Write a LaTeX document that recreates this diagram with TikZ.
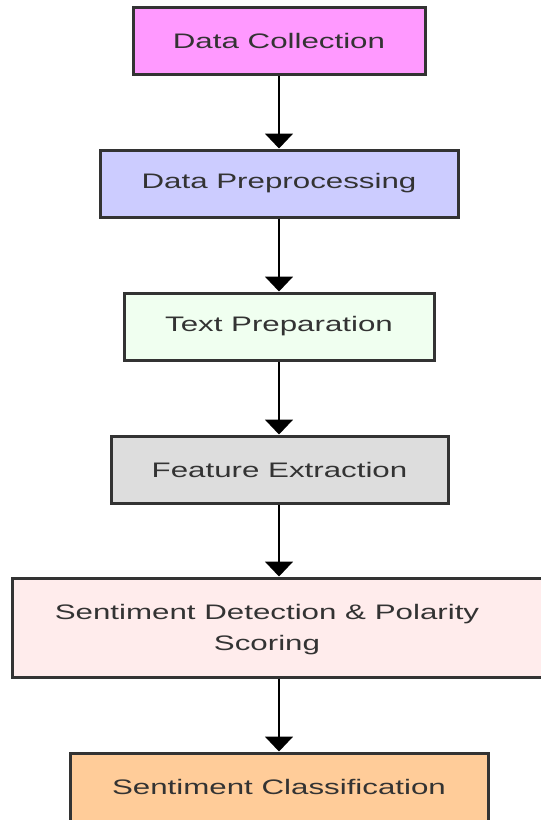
\documentclass[tikz,border=0pt]{standalone}
\usepackage{fontspec}
\setmainfont{Liberation Sans}
\usetikzlibrary{arrows.meta,shadows}
\definecolor{edge}{HTML}{333333}
\definecolor{txt}{HTML}{333333}
\definecolor{cA}{HTML}{FF99FF}
\definecolor{cB}{HTML}{CCCCFF}
\definecolor{cC}{HTML}{F0FFF0}
\definecolor{cD}{HTML}{DDDDDD}
\definecolor{cE}{HTML}{FFECEC}
\definecolor{cF}{HTML}{FFCC99}
\newcommand{\wtxt}[1]{\raisebox{-2pt}{\scalebox{1.49}[1]{#1}}}
\tikzset{
  stepbox/.style={draw=edge, line width=3pt, inner sep=0pt, minimum height=67pt,
    text=txt, font=\fontsize{21pt}{31pt}\selectfont, align=center,
    drop shadow={opacity=0.18, shadow xshift=1pt, shadow yshift=-1.5pt}},
  flow/.style={line width=2pt, black, -{Triangle[width=28pt,length=15pt]}}
}
\begin{document}
\begin{tikzpicture}[x=1pt,y=1pt]
\useasboundingbox (0,0) rectangle (541,-820);
\fill[white] (0,0) rectangle (541,-820);
\node[stepbox, fill=cA, minimum width=292pt] (n1) at (279,-40.5) {\wtxt{Data Collection}};
\node[stepbox, fill=cB, minimum width=358pt] (n2) at (279,-183.5) {\wtxt{Data Preprocessing}};
\node[stepbox, fill=cC, minimum width=310pt] (n3) at (279,-326.5) {\wtxt{Text Preparation}};
\node[stepbox, fill=cD, minimum width=337pt] (n4) at (279.5,-469.5) {\wtxt{Feature Extraction}};
\node[stepbox, fill=cE, minimum width=534pt, minimum height=99pt] (n5) at (279,-627.5) {};
\node[text=txt, font=\fontsize{21pt}{31pt}\selectfont, align=center] (n5t) at (267,-630) {\wtxt{Sentiment Detection \& Polarity}\\\wtxt{Scoring}};
\node[stepbox, fill=cF, minimum width=418pt, minimum height=74pt] (n6) at (279,-790) {};
\node[text=txt, font=\fontsize{21pt}{31pt}\selectfont] (n6t) at (279,-786.5) {\wtxt{Sentiment Classification}};
\draw[flow] (n1.south) -- (n2.north);
\draw[flow] (n2.south) -- (n3.north);
\draw[flow] (n3.south) -- (n4.north -| n3.south);
\draw[flow] (n4.south -| n3.south) -- (n5.north);
\draw[flow] (n5.south) -- (n6.north);
\end{tikzpicture}
\end{document}
